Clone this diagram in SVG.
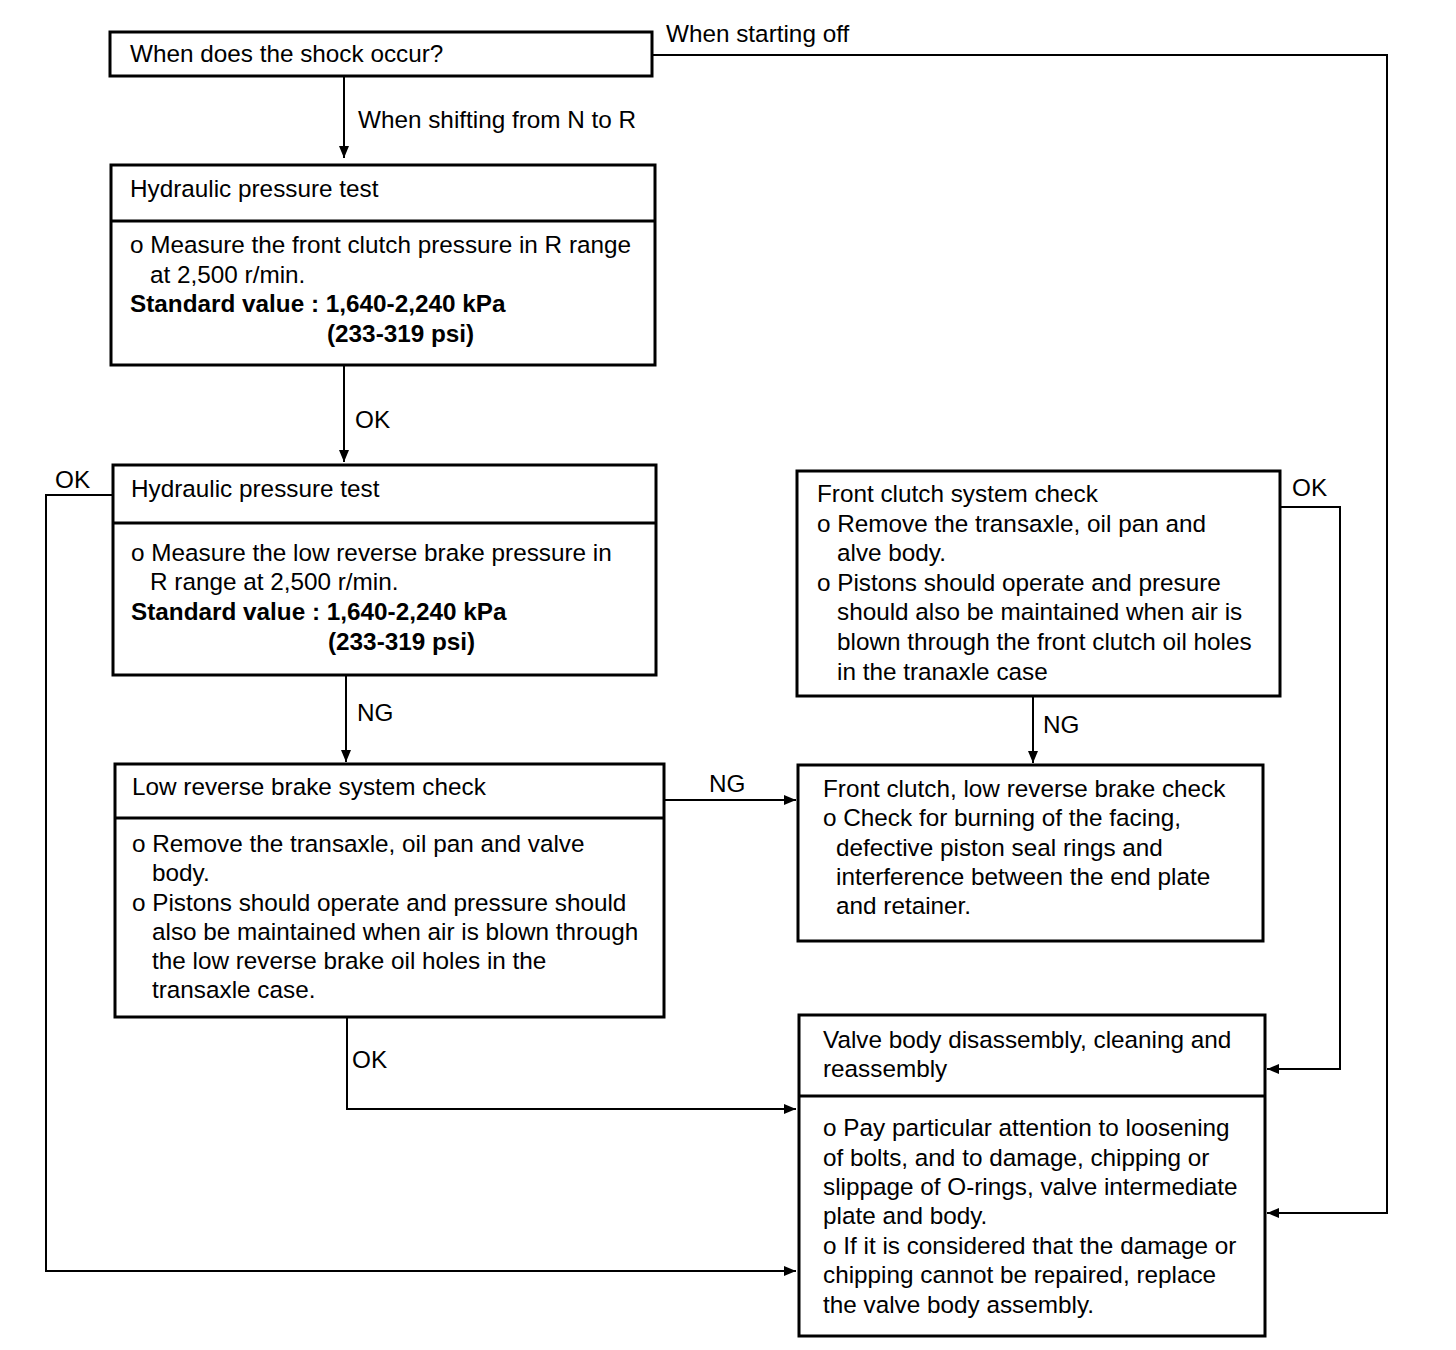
<svg xmlns="http://www.w3.org/2000/svg" width="1456" height="1350" viewBox="0 0 1456 1350">
<style>
.box{fill:#fff;stroke:#000;stroke-width:3}
.div{stroke:#000;stroke-width:3}
.c{fill:none;stroke:#000;stroke-width:2}
text{font-family:"Liberation Sans",Arial,sans-serif;font-size:24.3px;fill:#000}
.b{font-weight:bold}
</style>
<defs>
<marker id="ah" viewBox="0 0 12 10" refX="12" refY="5" markerWidth="12" markerHeight="10" markerUnits="userSpaceOnUse" orient="auto">
<path d="M0,0 L12,5 L0,10 Z" fill="#000"/>
</marker>
</defs>
<rect width="1456" height="1350" fill="#fff"/>
<g id="connectors">
<path class="c" d="M652,55 H1387 V1213 H1267" marker-end="url(#ah)"/>
<text x="666" y="42">When starting off</text>
<path class="c" d="M344,76 V158" marker-end="url(#ah)"/>
<text x="358" y="128">When shifting from N to R</text>
<path class="c" d="M344,365 V462" marker-end="url(#ah)"/>
<text x="355" y="428">OK</text>
<path class="c" d="M113,495 H46 V1271 H796" marker-end="url(#ah)"/>
<text x="55" y="488">OK</text>
<path class="c" d="M346,675 V762" marker-end="url(#ah)"/>
<text x="357" y="721">NG</text>
<path class="c" d="M664,800 H796" marker-end="url(#ah)"/>
<text x="709" y="792">NG</text>
<path class="c" d="M347,1017 V1109 H796" marker-end="url(#ah)"/>
<text x="352" y="1068">OK</text>
<path class="c" d="M1280,507 H1340 V1069 H1267" marker-end="url(#ah)"/>
<text x="1292" y="496">OK</text>
<path class="c" d="M1033,696 V763" marker-end="url(#ah)"/>
<text x="1043" y="733">NG</text>
</g>
<g id="n1">
<rect class="box" x="110" y="32" width="542" height="44"/>
<text x="130" y="62">When does the shock occur?</text>
</g>
<g id="n2">
<rect class="box" x="111" y="165" width="544" height="200"/>
<line class="div" x1="111" y1="221" x2="655" y2="221"/>
<text x="130" y="197">Hydraulic pressure test</text>
<text x="130" y="253">o Measure the front clutch pressure in R range</text>
<text x="150" y="283">at 2,500 r/min.</text>
<text class="b" x="130" y="312">Standard value : 1,640-2,240 kPa</text>
<text class="b" x="327" y="342">(233-319 psi)</text>
</g>
<g id="n3">
<rect class="box" x="113" y="465" width="543" height="210"/>
<line class="div" x1="113" y1="523" x2="656" y2="523"/>
<text x="131" y="497">Hydraulic pressure test</text>
<text x="131" y="561">o Measure the low reverse brake pressure in</text>
<text x="150" y="590">R range at 2,500 r/min.</text>
<text class="b" x="131" y="620">Standard value : 1,640-2,240 kPa</text>
<text class="b" x="328" y="650">(233-319 psi)</text>
</g>
<g id="n4">
<rect class="box" x="115" y="764" width="549" height="253"/>
<line class="div" x1="115" y1="818" x2="664" y2="818"/>
<text x="132" y="795">Low reverse brake system check</text>
<text x="132" y="852">o Remove the transaxle, oil pan and valve</text>
<text x="152" y="881">body.</text>
<text x="132" y="911">o Pistons should operate and pressure should</text>
<text x="152" y="940">also be maintained when air is blown through</text>
<text x="152" y="969">the low reverse brake oil holes in the</text>
<text x="152" y="998">transaxle case.</text>
</g>
<g id="n5">
<rect class="box" x="797" y="471" width="483" height="225"/>
<text x="817" y="502">Front clutch system check</text>
<text x="817" y="532">o Remove the transaxle, oil pan and</text>
<text x="837" y="561">alve body.</text>
<text x="817" y="591">o Pistons should operate and presure</text>
<text x="837" y="620">should also be maintained when air is</text>
<text x="837" y="650">blown through the front clutch oil holes</text>
<text x="837" y="680">in the tranaxle case</text>
</g>
<g id="n6">
<rect class="box" x="798" y="765" width="465" height="176"/>
<text x="823" y="797">Front clutch, low reverse brake check</text>
<text x="823" y="826">o Check for burning of the facing,</text>
<text x="836" y="856">defective piston seal rings and</text>
<text x="836" y="885">interference between the end plate</text>
<text x="836" y="914">and retainer.</text>
</g>
<g id="n7">
<rect class="box" x="799" y="1015" width="466" height="321"/>
<line class="div" x1="799" y1="1096" x2="1265" y2="1096"/>
<text x="823" y="1048">Valve body disassembly, cleaning and</text>
<text x="823" y="1077">reassembly</text>
<text x="823" y="1136">o Pay particular attention to loosening</text>
<text x="823" y="1166">of bolts, and to damage, chipping or</text>
<text x="823" y="1195">slippage of O-rings, valve intermediate</text>
<text x="823" y="1224">plate and body.</text>
<text x="823" y="1254">o If it is considered that the damage or</text>
<text x="823" y="1283">chipping cannot be repaired, replace</text>
<text x="823" y="1313">the valve body assembly.</text>
</g>
</svg>
